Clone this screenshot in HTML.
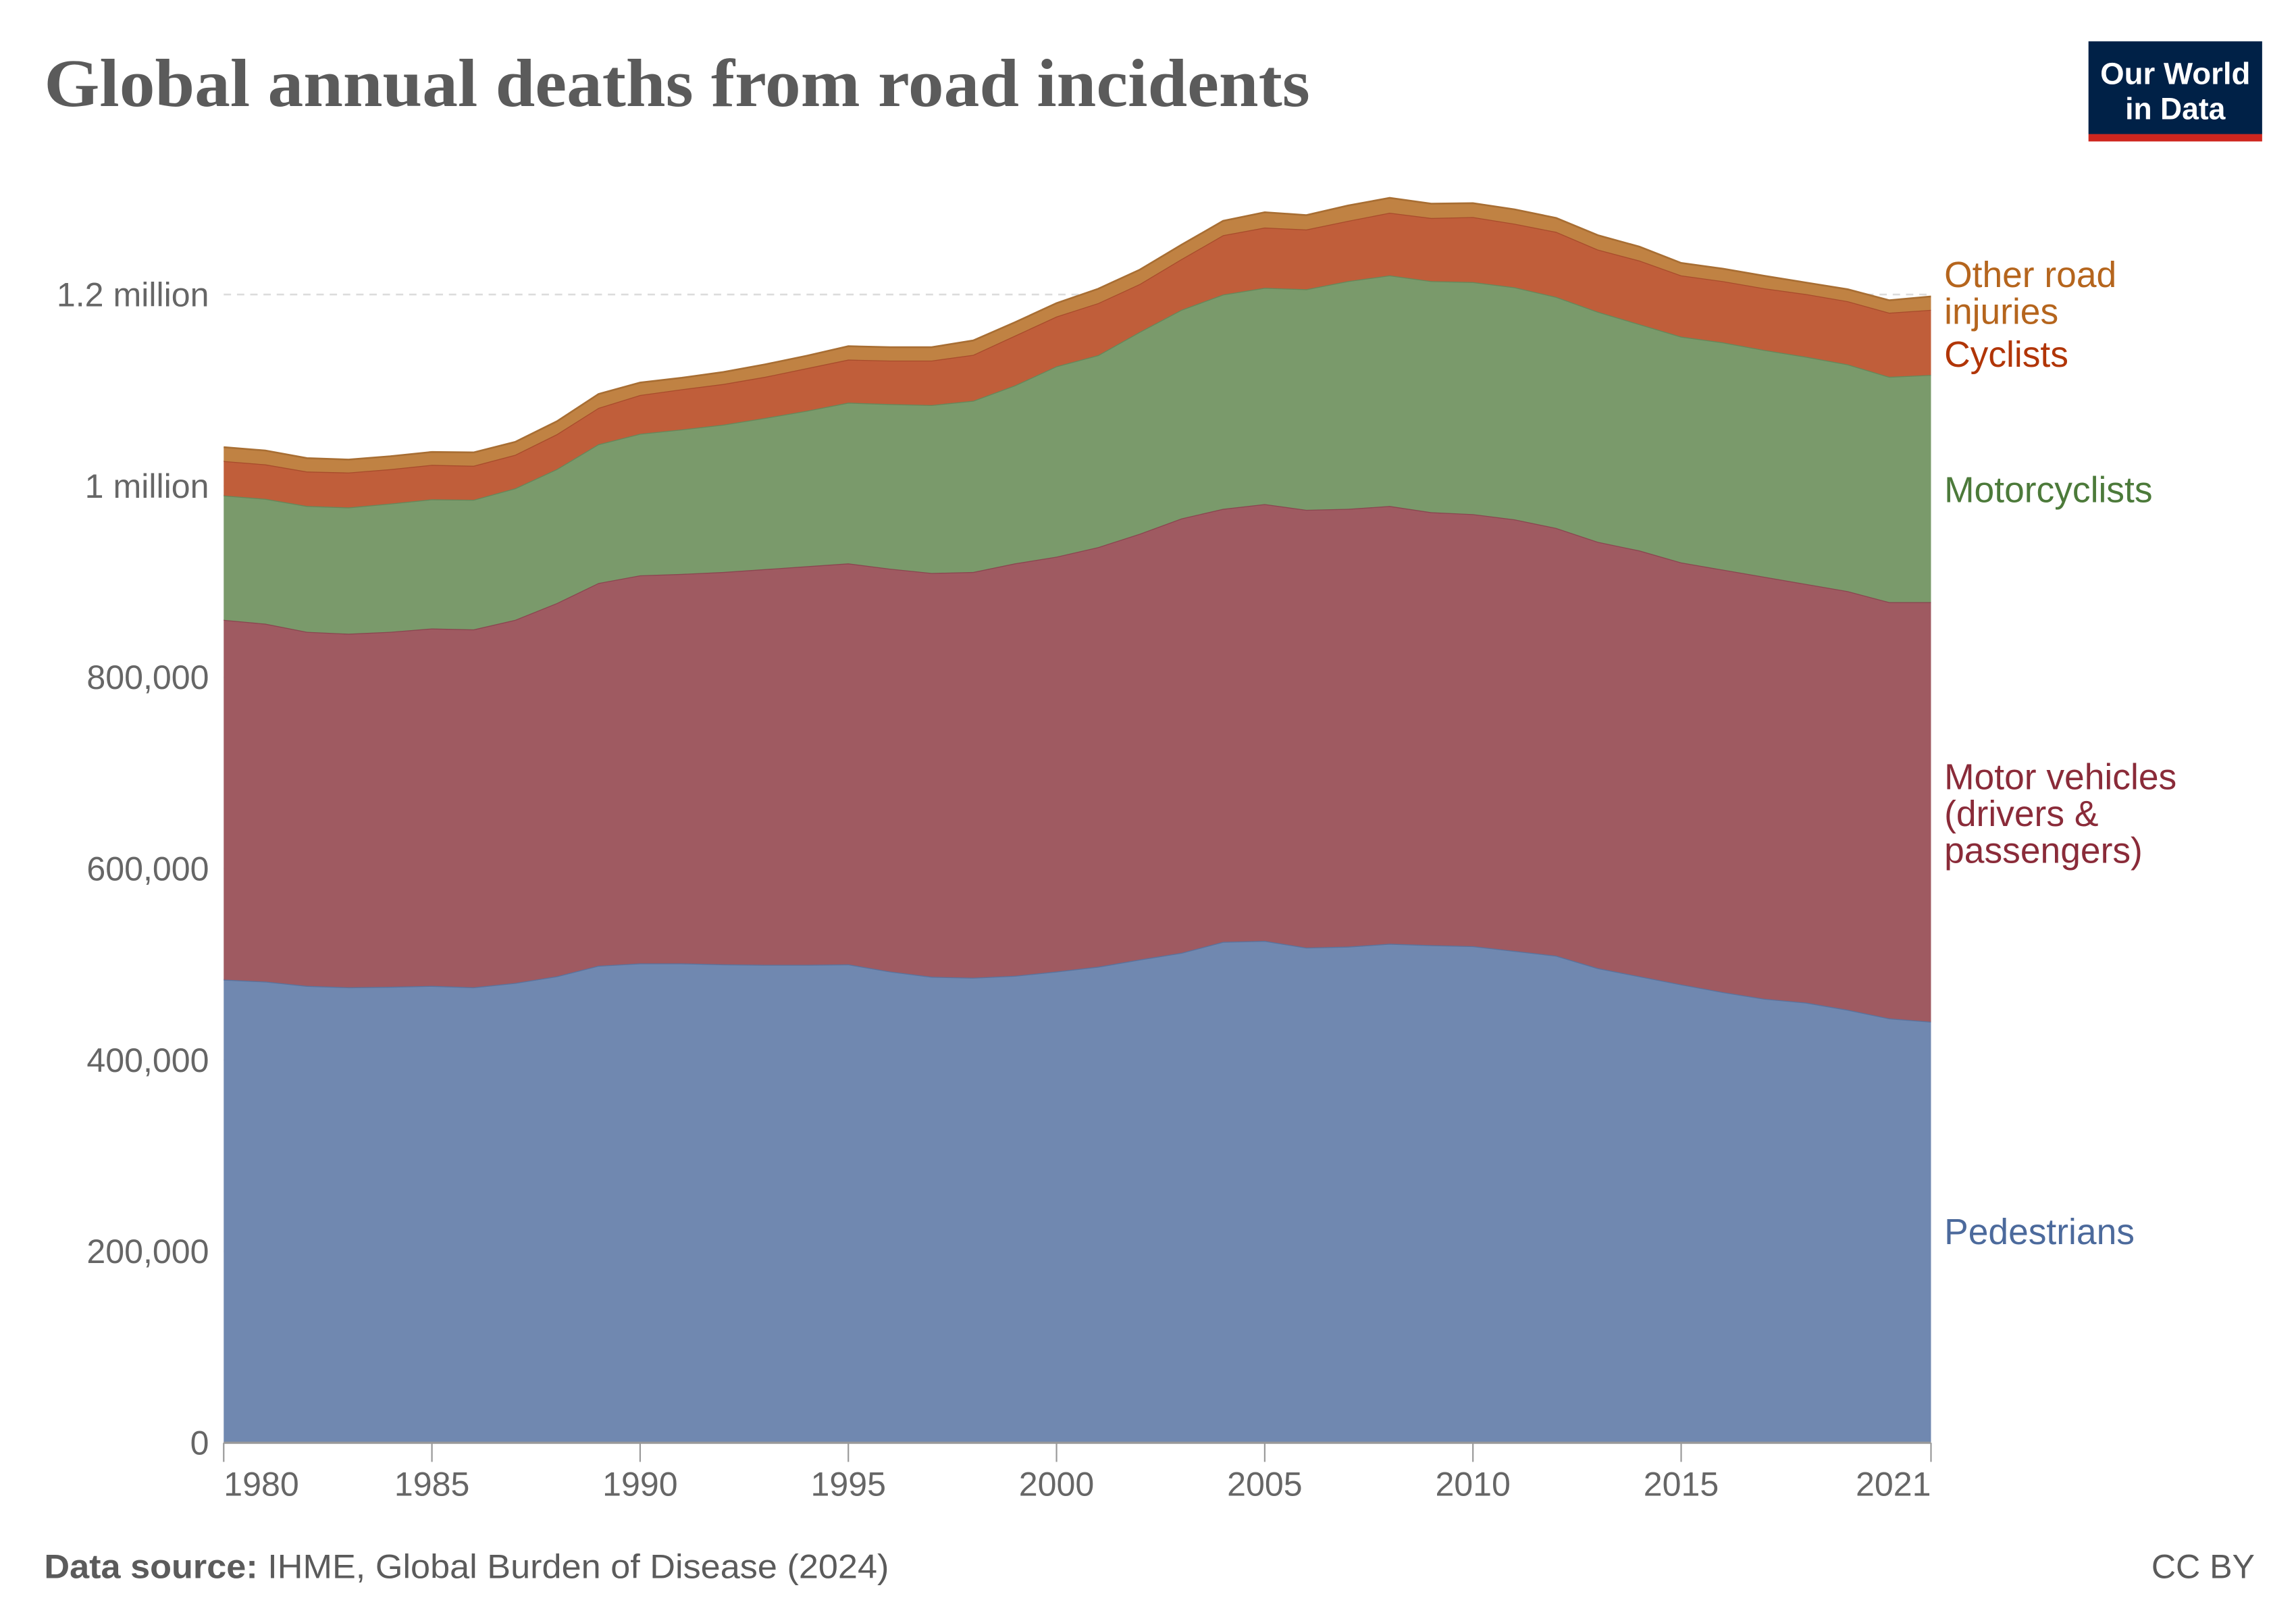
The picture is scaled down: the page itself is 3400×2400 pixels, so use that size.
<!DOCTYPE html>
<html><head><meta charset="utf-8">
<style>
html,body{margin:0;padding:0;background:#fff;}
svg{display:block;font-family:"Liberation Sans",sans-serif;}
</style></head>
<body>
<svg id="chart" width="3400" height="2400" viewBox="0 0 1560 1101" xmlns="http://www.w3.org/2000/svg">
<rect width="1560" height="1101" fill="#fff"/>
<text x="30" y="72" font-family="Liberation Serif, serif" font-weight="bold" font-size="46" fill="#5b5b5b" textLength="860" lengthAdjust="spacingAndGlyphs">Global annual deaths from road incidents</text>
<g>
<rect x="1419" y="28" width="118" height="63" fill="#002147"/>
<rect x="1419" y="91" width="118" height="5" fill="#ce261e"/>
<text x="1478" y="57" text-anchor="middle" font-size="21" font-weight="bold" fill="#fff" textLength="102" lengthAdjust="spacingAndGlyphs">Our World</text>
<text x="1478" y="81" text-anchor="middle" font-size="21" font-weight="bold" fill="#fff" textLength="68" lengthAdjust="spacingAndGlyphs">in Data</text>
</g>
<g id="grid"></g>
<g id="areas"></g>
<g id="axes"></g>
<g id="legend"></g>
<text x="30" y="1072" font-size="23" fill="#5b5b5b" textLength="574" lengthAdjust="spacingAndGlyphs"><tspan font-weight="bold">Data source:</tspan> IHME, Global Burden of Disease (2024)</text>
<text x="1532" y="1072" text-anchor="end" font-size="23" fill="#5b5b5b">CC BY</text>
</svg>
<script>
const years = [1980,1981,1982,1983,1984,1985,1986,1987,1988,1989,1990,1991,1992,1993,1994,1995,1996,1997,1998,1999,2000,2001,2002,2003,2004,2005,2006,2007,2008,2009,2010,2011,2012,2013,2014,2015,2016,2017,2018,2019,2020,2021];
const pedestrians = [484000,482000,477500,476000,476500,477500,476000,480500,487500,498500,501000,501000,500000,499500,499500,500000,492500,487000,486000,488000,492500,497500,505000,512000,523500,524500,517500,518500,521500,520000,519000,514000,509000,496000,487500,479000,471000,464000,460000,452500,443500,440000];
const motorVehicles = [376000,374000,370000,369500,371000,373500,374000,379500,390000,400000,405500,407000,410000,413500,416500,419000,421000,422000,424000,431000,433500,438500,445000,454000,452500,456500,457500,457500,457500,452500,451500,451000,447000,445500,445000,441000,441500,441000,437500,437500,435000,438500];
const motorcyclists = [130000,130500,131500,132000,134000,135000,135500,137500,140000,145000,148000,151000,154000,158000,162500,168000,172000,175500,179000,186000,199000,200600,211000,218000,224000,226000,230500,238000,241000,241500,242500,242600,241500,240500,236500,236000,237500,237000,237500,237000,235500,237500];
const cyclists = [36000,36000,36000,36500,36000,36000,35500,35000,36500,38000,40500,42000,42500,43000,44500,45000,45500,46500,48000,52000,52000,54400,50000,53000,62000,63000,62500,63000,65500,66000,68000,66400,68000,65000,66500,64000,64000,64500,65500,66000,67000,68000];
const otherRoad = [14500,14500,14000,13500,13500,13500,14000,13500,13500,14500,13000,12000,12500,13000,13000,14000,14000,14000,15000,14000,14000,15000,15000,15000,15000,16000,15000,16000,15500,15000,14500,15000,14500,15000,14500,13000,13000,13000,12000,12500,13000,14000];
const yTicks = [0,200000,400000,600000,800000,1000000,1200000];
const yTickLabels = ["0","200,000","400,000","600,000","800,000","1 million","1.2 million"];
const xTicks = [1980,1985,1990,1995,2000,2005,2010,2015,2021];

const NS = "http://www.w3.org/2000/svg";
const X0 = 152, X1 = 1312, Y0 = 980, PX_PER = 130/200000;
function xs(yr){ return X0 + (yr - years[0]) * (X1 - X0) / (years[years.length-1] - years[0]); }
function ys(v){ return Y0 - v * PX_PER; }
function mk(tag, attrs, parent){ const e = document.createElementNS(NS, tag); for (const k in attrs) e.setAttribute(k, attrs[k]); parent.appendChild(e); return e; }

const grid = document.getElementById('grid');
yTicks.forEach((t,i)=>{
  if (t > 0) {
    const l = mk('line',{x1:X0,x2:X1,y1:ys(t),y2:ys(t),stroke:'#dcdcdc','stroke-dasharray':'5,4','stroke-width':1.2},grid);
    
    
  }
});

const series = [
  {name:'pedestrians', vals:pedestrians, fill:'#7088b0', stroke:'#5a729c'},
  {name:'motor-vehicles', vals:motorVehicles, fill:'#9f5a61', stroke:'#8a4650'},
  {name:'motorcyclists', vals:motorcyclists, fill:'#7a9a6b', stroke:'#66875a'},
  {name:'cyclists', vals:cyclists, fill:'#c05e3a', stroke:'#a84c2c'},
  {name:'other-road-injuries', vals:otherRoad, fill:'#c08243', stroke:'#a86e33'}
];
const areas = document.getElementById('areas');
let base = years.map(()=>0);
series.forEach(s=>{
  const top = base.map((b,i)=>b + s.vals[i]);
  let d = '';
  years.forEach((yr,i)=>{ d += (i ? 'L' : 'M') + xs(yr).toFixed(2) + ',' + ys(top[i]).toFixed(2); });
  for (let i = years.length-1; i >= 0; i--) d += 'L' + xs(years[i]).toFixed(2) + ',' + ys(base[i]).toFixed(2);
  d += 'Z';
  const p = mk('path',{d:d,fill:s.fill},areas);
  
  
  let ld = '';
  years.forEach((yr,i)=>{ ld += (i ? 'L' : 'M') + xs(yr).toFixed(2) + ',' + ys(top[i]).toFixed(2); });
  const ln = mk('path',{d:ld,fill:'none',stroke:s.stroke,'stroke-width':1.2},areas);
  
  
  base = top;
});

const axes = document.getElementById('axes');
const ax = mk('line',{x1:X0,x2:X1,y1:Y0,y2:Y0,stroke:'#999','stroke-width':1.5},axes);


yTicks.forEach((t,i)=>{
  const tx = mk('text',{x:142,y:ys(t)+8,'text-anchor':'end','font-size':23,fill:'#666'},axes);
  tx.textContent = yTickLabels[i];
  
  
});
xTicks.forEach((yr,i)=>{
  const tk = mk('line',{x1:xs(yr),x2:xs(yr),y1:Y0,y2:Y0+13,stroke:'#999','stroke-width':1},axes);
  
  
  const anchor = i === 0 ? 'start' : (i === xTicks.length-1 ? 'end' : 'middle');
  const tx = mk('text',{x:xs(yr),y:1016,'text-anchor':anchor,'font-size':23,fill:'#666'},axes);
  tx.textContent = String(yr);
  
  
});

const legend = document.getElementById('legend');
const legendItems = [
  {name:'legend-other-road-injuries', lines:['Other road','injuries'], y:195, color:'#b5651d'},
  {name:'legend-cyclists', lines:['Cyclists'], y:249, color:'#b13507'},
  {name:'legend-motorcyclists', lines:['Motorcyclists'], y:341, color:'#4c7a3a'},
  {name:'legend-motor-vehicles', lines:['Motor vehicles','(drivers &','passengers)'], y:536, color:'#8a2b39'},
  {name:'legend-pedestrians', lines:['Pedestrians'], y:845, color:'#4c6a9c'}
];
legendItems.forEach(it=>{
  const t = mk('text',{x:1321,y:it.y,'font-size':24.5,fill:it.color},legend);
  
  
  it.lines.forEach((ln,j)=>{
    const sp = mk('tspan',{x:1321,dy:j ? 25 : 0},t);
    sp.textContent = ln;
  });
});
</script>
</body></html>
